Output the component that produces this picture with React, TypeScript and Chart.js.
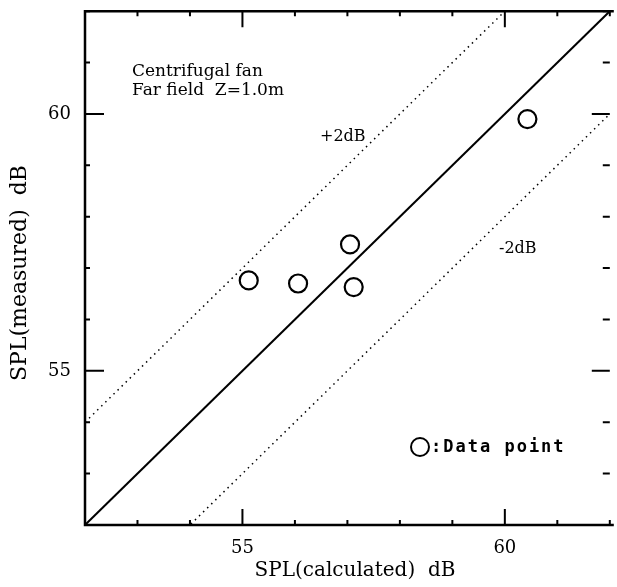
import React, { useEffect, useRef } from "react";
import { Chart, registerables } from "chart.js";

Chart.register(...registerables);

// ---- data ----
const calculatedSPL = [55.12, 56.06, 57.05, 57.12, 60.43];
const measuredSPL = [56.76, 56.7, 57.46, 56.63, 59.9];
const axisRange = [52, 62];
const labeledTicks = [55, 60];
const minorTickStep = 1;
const toleranceDb = [2, -2];
const annotationLines = ["Centrifugal fan", "Far field  Z=1.0m"];
const toleranceLabels = ["+2dB", "-2dB"];
const legendLabel = ":Data point";
const xTitle = "SPL(calculated)  dB";
const yTitle = "SPL(measured)  dB";

const W = 617;
const H = 587;
const CW = 621;

const framePlugin = {
  id: "framePlugin",
  afterDraw(chart: any) {
    const { ctx, chartArea } = chart;
    const xs = chart.scales.x;
    const ys = chart.scales.y;
    const { left, right, top, bottom } = chartArea;
    ctx.save();
    ctx.strokeStyle = "#000";
    ctx.fillStyle = "#000";
    // frame (right edge lies at the picture's border and is not drawn)
    ctx.lineWidth = 2.5;
    ctx.beginPath();
    ctx.moveTo(right + 4, top);
    ctx.lineTo(left, top);
    ctx.lineTo(left, bottom);
    ctx.lineTo(right + 4, bottom);
    ctx.stroke();

    // ticks
    ctx.lineWidth = 2;
    for (let v = axisRange[0]; v <= axisRange[1] + 1e-9; v += minorTickStep) {
      const major = labeledTicks.includes(v);
      const len = major ? 16 : 5;
      const px = xs.getPixelForValue(v);
      const py = ys.getPixelForValue(v);
      ctx.beginPath();
      ctx.moveTo(px, bottom);
      ctx.lineTo(px, bottom - len);
      ctx.moveTo(px, top);
      ctx.lineTo(px, top + len);
      ctx.moveTo(left, py);
      ctx.lineTo(left + len + (major ? 3 : 0), py);
      ctx.moveTo(right, py);
      ctx.lineTo(right - len - 2, py);
      ctx.stroke();
    }

    // tick labels
    ctx.font = '18px "DejaVu Serif"';
    ctx.textBaseline = "middle";
    for (const v of labeledTicks) {
      ctx.textAlign = "center";
      ctx.fillText(String(v), xs.getPixelForValue(v), bottom + 23);
      ctx.textAlign = "right";
      ctx.fillText(String(v), left - 14, ys.getPixelForValue(v));
    }

    // axis titles
    ctx.font = '20px "DejaVu Serif"';
    ctx.textAlign = "center";
    ctx.fillText(xTitle, 355, bottom + 46);
    ctx.save();
    ctx.font = '22px "DejaVu Serif"';
    ctx.translate(20, 273);
    ctx.rotate(-Math.PI / 2);
    ctx.fillText(yTitle, 0, 0);
    ctx.restore();

    // annotation
    ctx.font = '17px "DejaVu Serif"';
    ctx.textAlign = "left";
    ctx.textBaseline = "alphabetic";
    ctx.fillText(annotationLines[0], 132, 76);
    ctx.fillText(annotationLines[1], 132, 95);

    // tolerance labels
    ctx.font = '16px "DejaVu Serif"';
    ctx.fillText(toleranceLabels[0], 320, 141);
    ctx.fillText(toleranceLabels[1], 499, 253);

    // legend
    ctx.lineWidth = 2;
    ctx.beginPath();
    ctx.arc(420, 447, 9, 0, Math.PI * 2);
    ctx.stroke();
    ctx.font = 'bold 17px "DejaVu Sans Mono"';
    (ctx as any).letterSpacing = "2px";
    ctx.textBaseline = "middle";
    ctx.fillText(legendLabel, 431, 448);
    ctx.restore();
  },
};

export default function App() {
  const ref = useRef<HTMLCanvasElement>(null);
  useEffect(() => {
    if (!ref.current) return;
    const pts = calculatedSPL.map((x, i) => ({ x, y: measuredSPL[i] }));
    const lo = axisRange[0];
    const hi = axisRange[1];
    const chart = new Chart(ref.current, {
      type: "scatter",
      data: {
        datasets: [
          {
            data: [
              { x: lo, y: lo },
              { x: hi, y: hi },
            ],
            showLine: true,
            borderColor: "#000",
            borderWidth: 2,
            pointRadius: 0,
          },
          ...toleranceDb.map((d) => ({
            data: [
              { x: lo, y: lo + d },
              { x: hi, y: hi + d },
            ],
            showLine: true,
            borderColor: "#000",
            borderWidth: 1.5,
            borderDash: [1.5, 4.2],
            pointRadius: 0,
          })),
          {
            data: pts,
            pointStyle: "circle",
            pointRadius: 9,
            borderWidth: 2.2,
            borderColor: "#000",
            backgroundColor: "rgba(255,255,255,0)",
            showLine: false,
          },
        ],
      },
      options: {
        animation: false,
        responsive: false,
        devicePixelRatio: 1,
        layout: { padding: { left: 85, right: 2, top: 10, bottom: 62 } },
        scales: {
          x: { type: "linear", min: axisRange[0], max: axisRange[1], display: false },
          y: { type: "linear", min: axisRange[0], max: axisRange[1], display: false },
        },
        plugins: { legend: { display: false }, tooltip: { enabled: false } },
      },
      plugins: [framePlugin],
    });
    return () => chart.destroy();
  }, []);
  return (
    <div
      style={{
        position: "fixed",
        left: 0,
        top: 0,
        width: W,
        height: H,
        overflow: "hidden",
        background: "#fff",
      }}
    >
      <canvas ref={ref} width={CW} height={H} style={{ display: "block" }} />
    </div>
  );
}
